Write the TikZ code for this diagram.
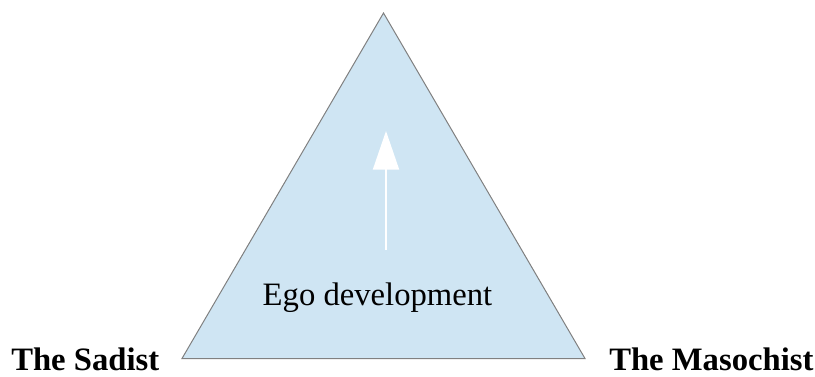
\documentclass[tikz,border=0pt]{standalone}
\usepackage{fontspec}
\setmainfont{Liberation Serif}
\usetikzlibrary{arrows.meta}

\definecolor{egofill}{HTML}{CFE5F3}
\definecolor{egoline}{HTML}{808080}

\begin{document}
\begin{tikzpicture}[x=0.75pt,y=-0.75pt,
  label/.style={inner sep=0pt, font=\fontsize{24.5}{29}\selectfont},
  pole/.style={label, font=\fontsize{24.5}{29}\selectfont\bfseries}]

\useasboundingbox (0,0) rectangle (815,376);

\coordinate (top) at (383.5,13);
\coordinate (L) at (182,358.5);
\coordinate (R) at (585,358.5);

\filldraw[fill=egofill, draw=egoline, line width=0.75pt] (top) -- (L) -- (R) -- cycle;

\coordinate (up0) at (386,250);
\coordinate (up1) at (386,131);
\draw[white, line width=1.5pt, -{Triangle[length=29pt,width=19.5pt]}] (up0) -- (up1);

\node[label, anchor=base] (ego) at (377.5,305) {Ego development};
\node[pole, anchor=base west] (sad) at (11,370) {The Sadist};
\node[pole, anchor=base west] (mas) at (609,370) {The Masochist};

\end{tikzpicture}
\end{document}
